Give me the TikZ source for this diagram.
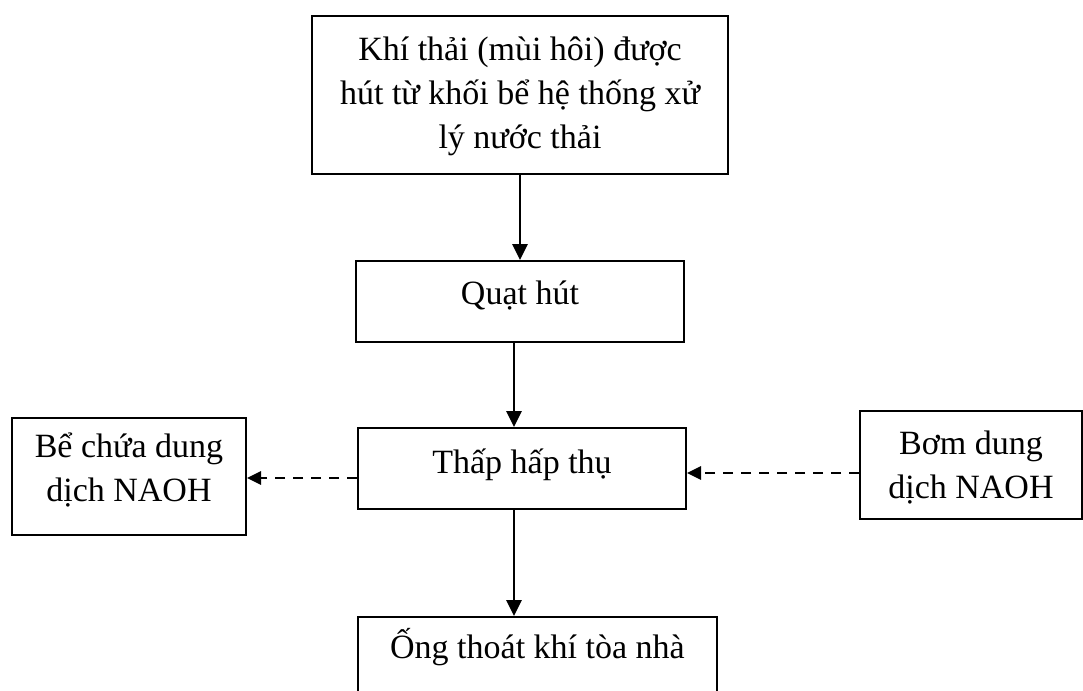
\documentclass[tikz,border=0pt]{standalone}
\usepackage{fontspec}
\setmainfont{Liberation Serif}
\usepackage{tikz}
\usetikzlibrary{arrows.meta,calc}

\begin{document}
\begin{tikzpicture}[x=0.5pt,y=-0.5pt,
  box/.style={draw,line width=1pt,anchor=north,align=center,inner xsep=0pt,inner ysep=3pt,
    font=\fontsize{17pt}{22pt}\selectfont},
  flow/.style={line width=1.4pt,-{Triangle[length=8pt,width=7.5pt]}},
  feed/.style={line width=1.4pt,dash pattern=on 5pt off 4pt,-{Triangle[length=7pt,width=6.5pt]}}]
  \useasboundingbox (0,0) rectangle (1083,691);
  \clip (0,0) rectangle (1083,691);
  \node[box,minimum width=208pt,text height=63pt,text depth=10pt] (khithai) at (520,15)
    {Khí thải (mùi hôi) được\\hút từ khối bể hệ thống xử\\lý nước thải};
  \node[box,minimum width=164pt,text height=18.5pt,text depth=16pt] (quathut) at (520,260) {Quạt hút};
  \node[box,minimum width=164pt,text height=19.5pt,text depth=15pt] (thap) at (522,427) {Thấp hấp thụ};
  \node[box,minimum width=117pt,text height=38.5pt,text depth=14pt] (bechua) at (129,417)
    {Bể chứa dung\\dịch NAOH};
  \node[box,minimum width=111pt,text height=40.5pt,text depth=7.5pt] (bom) at (971,410)
    {Bơm dung\\dịch NAOH};
  \node[box,minimum width=179.5pt,text height=17.5pt,text depth=40pt] (ong) at (537.5,616) {Ống thoát khí tòa nhà};
  \draw[flow] (khithai.south) -- (quathut.north);
  \draw[flow] ([xshift=-3pt]quathut.south) -- ([xshift=-3pt]quathut.south |- thap.north);
  \draw[flow] ([xshift=-4pt]thap.south) -- ([xshift=-4pt]thap.south |- ong.north);
  \draw[feed] ([yshift=-4.75pt]thap.west) -- ([yshift=-4.75pt]thap.west -| bechua.east);
  \draw[feed] ([yshift=-4pt]bom.west) -- ([yshift=-4pt]bom.west -| thap.east);
\end{tikzpicture}
\end{document}
